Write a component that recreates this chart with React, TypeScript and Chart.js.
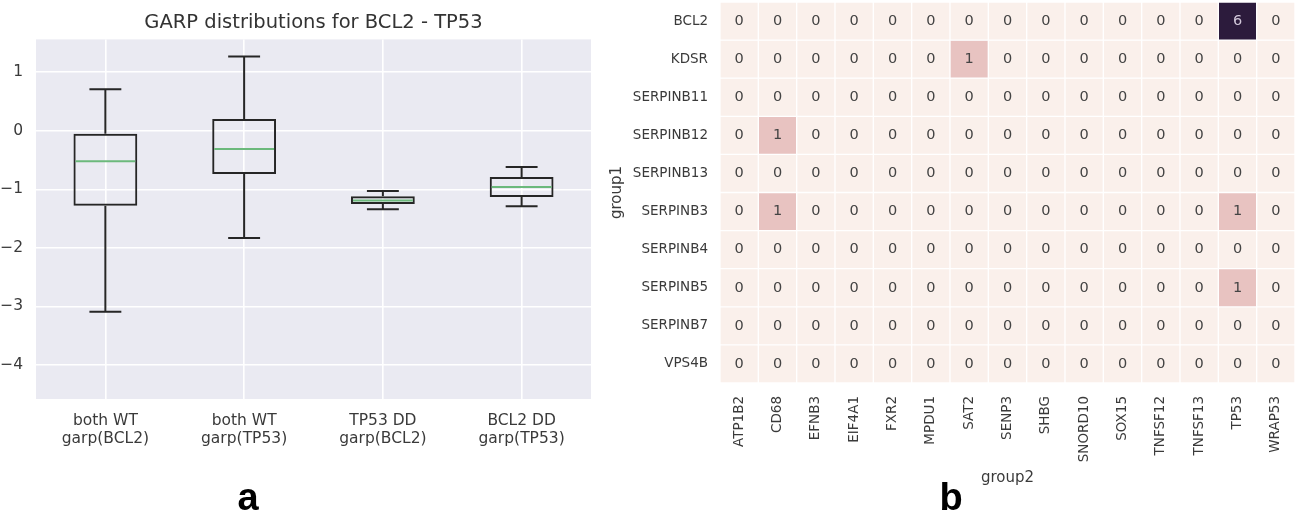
import React, { useEffect, useRef } from 'react';
import { Chart, registerables } from 'chart.js';

Chart.register(...registerables);

// ---------- Panel a: box plot data ----------
const boxCategories = [
  ['both WT', 'garp(BCL2)'],
  ['both WT', 'garp(TP53)'],
  ['TP53 DD', 'garp(BCL2)'],
  ['BCL2 DD', 'garp(TP53)'],
];
const whiskerLow = [-3.09, -1.83, -1.34, -1.29];
const quartile1 = [-1.28, -0.74, -1.25, -1.13];
const medians = [-0.52, -0.31, -1.19, -0.96];
const quartile3 = [-0.05, 0.2, -1.12, -0.79];
const whiskerHigh = [0.71, 1.27, -1.03, -0.62];
const yTicksA = [-4, -3, -2, -1, 0, 1];

// ---------- Panel b: heatmap data ----------
const group1 = ['BCL2', 'KDSR', 'SERPINB11', 'SERPINB12', 'SERPINB13', 'SERPINB3', 'SERPINB4', 'SERPINB5', 'SERPINB7', 'VPS4B'];
const group2 = ['ATP1B2', 'CD68', 'EFNB3', 'EIF4A1', 'FXR2', 'MPDU1', 'SAT2', 'SENP3', 'SHBG', 'SNORD10', 'SOX15', 'TNFSF12', 'TNFSF13', 'TP53', 'WRAP53'];
const countsBCL2 = [0, 0, 0, 0, 0, 0, 0, 0, 0, 0, 0, 0, 0, 6, 0];
const countsKDSR = [0, 0, 0, 0, 0, 0, 1, 0, 0, 0, 0, 0, 0, 0, 0];
const countsSERPINB11 = [0, 0, 0, 0, 0, 0, 0, 0, 0, 0, 0, 0, 0, 0, 0];
const countsSERPINB12 = [0, 1, 0, 0, 0, 0, 0, 0, 0, 0, 0, 0, 0, 0, 0];
const countsSERPINB13 = [0, 0, 0, 0, 0, 0, 0, 0, 0, 0, 0, 0, 0, 0, 0];
const countsSERPINB3 = [0, 1, 0, 0, 0, 0, 0, 0, 0, 0, 0, 0, 0, 1, 0];
const countsSERPINB4 = [0, 0, 0, 0, 0, 0, 0, 0, 0, 0, 0, 0, 0, 0, 0];
const countsSERPINB5 = [0, 0, 0, 0, 0, 0, 0, 0, 0, 0, 0, 0, 0, 1, 0];
const countsSERPINB7 = [0, 0, 0, 0, 0, 0, 0, 0, 0, 0, 0, 0, 0, 0, 0];
const countsVPS4B = [0, 0, 0, 0, 0, 0, 0, 0, 0, 0, 0, 0, 0, 0, 0];
const counts = [
  countsBCL2, countsKDSR, countsSERPINB11, countsSERPINB12, countsSERPINB13,
  countsSERPINB3, countsSERPINB4, countsSERPINB5, countsSERPINB7, countsVPS4B,
];
const colorStops: [number, number[]][] = [
  [0, [250, 240, 235]],
  [1, [232, 195, 193]],
  [6, [44, 27, 60]],
];

const FONT = 'DejaVu Sans';
const TEXT = '#3a3a3a';

function colorFor(v: number): string {
  for (let i = 0; i < colorStops.length - 1; i++) {
    const [a, ca] = colorStops[i];
    const [b, cb] = colorStops[i + 1];
    if (v >= a && v <= b) {
      const t = (v - a) / (b - a);
      const c = ca.map((x, k) => Math.round(x + (cb[k] - x) * t));
      return `rgb(${c[0]},${c[1]},${c[2]})`;
    }
  }
  const last = colorStops[colorStops.length - 1][1];
  return `rgb(${last[0]},${last[1]},${last[2]})`;
}

const minusFmt = (v: number) => (v < 0 ? '\u2212' + Math.abs(v) : String(v));

const panelLabelPlugin = {
  id: 'panelLabel',
  afterDraw(chart: any, _args: any, opts: any) {
    const ctx = chart.ctx;
    ctx.save();
    ctx.font = 'bold 38px "Liberation Sans", Arial, sans-serif';
    ctx.fillStyle = '#000';
    ctx.textAlign = 'center';
    ctx.textBaseline = 'alphabetic';
    ctx.fillText(opts.text, opts.x, opts.y);
    ctx.restore();
  },
};

const bgPlugin = {
  id: 'plotBg',
  beforeDraw(chart: any, _args: any, opts: any) {
    if (!opts || !opts.color) return;
    const { ctx, chartArea } = chart;
    ctx.save();
    ctx.fillStyle = opts.color;
    ctx.fillRect(chartArea.left, chartArea.top, chartArea.right - chartArea.left, chartArea.bottom - chartArea.top);
    ctx.restore();
  },
};

const boxPartsPlugin = {
  id: 'boxParts',
  afterDatasetsDraw(chart: any) {
    const { ctx } = chart;
    const y = chart.scales.y;
    const meta = chart.getDatasetMeta(0);
    ctx.save();
    ctx.lineWidth = 2;
    ctx.lineCap = 'butt';
    meta.data.forEach((bar: any, i: number) => {
      const cx = bar.x;
      const half = bar.width / 2;
      const capHalf = half / 2;
      const pLow = y.getPixelForValue(whiskerLow[i]);
      const pQ1 = y.getPixelForValue(quartile1[i]);
      const pQ3 = y.getPixelForValue(quartile3[i]);
      const pHigh = y.getPixelForValue(whiskerHigh[i]);
      const pMed = y.getPixelForValue(medians[i]);
      ctx.strokeStyle = '#262626';
      ctx.beginPath();
      ctx.moveTo(cx, pQ1);
      ctx.lineTo(cx, pLow);
      ctx.moveTo(cx, pQ3);
      ctx.lineTo(cx, pHigh);
      ctx.moveTo(cx - capHalf, pLow);
      ctx.lineTo(cx + capHalf, pLow);
      ctx.moveTo(cx - capHalf, pHigh);
      ctx.lineTo(cx + capHalf, pHigh);
      ctx.stroke();
      ctx.strokeStyle = '#6cb97c';
      ctx.beginPath();
      ctx.moveTo(cx - half + 2, pMed);
      ctx.lineTo(cx + half - 2, pMed);
      ctx.stroke();
    });
    ctx.restore();
  },
};

const cellTextPlugin = {
  id: 'cellText',
  afterDatasetsDraw(chart: any) {
    const { ctx } = chart;
    ctx.save();
    ctx.font = `14.5px "${FONT}"`;
    ctx.textAlign = 'center';
    ctx.textBaseline = 'middle';
    chart.data.datasets.forEach((_ds: any, r: number) => {
      const meta = chart.getDatasetMeta(r);
      meta.data.forEach((el: any, c: number) => {
        const v = counts[r][c];
        ctx.fillStyle = v > 3 ? '#d2c8da' : '#444444';
        ctx.fillText(String(v), el.x, (el.y + el.base) / 2);
      });
    });
    ctx.restore();
  },
};

function BoxPanel() {
  const ref = useRef<HTMLCanvasElement>(null);
  useEffect(() => {
    const chart = new Chart(ref.current as HTMLCanvasElement, {
      type: 'bar',
      data: {
        labels: boxCategories as any,
        datasets: [
          {
            data: quartile1.map((v, i) => [v, quartile3[i]]) as any,
            backgroundColor: 'rgba(0,0,0,0)',
            borderColor: '#262626',
            borderWidth: 2,
            borderSkipped: false,
            barPercentage: 0.46,
            categoryPercentage: 1,
          } as any,
        ],
      },
      options: {
        animation: false,
        responsive: false,
        maintainAspectRatio: false,
        layout: { padding: { left: 0, right: 36, top: 0, bottom: 0 } },
        plugins: {
          legend: { display: false },
          tooltip: { enabled: false },
          title: {
            display: true,
            text: 'GARP distributions for BCL2 - TP53',
            fullSize: false,
            color: '#333333',
            font: { family: FONT, size: 19.5, weight: 'normal' as any },
            padding: { top: 11, bottom: 5 },
          },
          plotBg: { color: '#eaeaf2' },
          panelLabel: { text: 'a', x: 248, y: 510 },
        } as any,
        scales: {
          x: {
            type: 'category',
            grid: { color: '#ffffff', lineWidth: 1.6, drawTicks: false, offset: false },
            border: { display: false },
            ticks: {
              color: TEXT,
              font: { family: FONT, size: 15.5, lineHeight: 1.16 },
              padding: 13,
              maxRotation: 0,
              autoSkip: false,
            },
            afterFit: (s: any) => {
              s.height = 113;
              s.paddingLeft = 0;
              s.paddingRight = 0;
            },
          },
          y: {
            type: 'linear',
            min: -4.58,
            max: 1.56,
            afterBuildTicks: (s: any) => {
              s.ticks = yTicksA.map((v) => ({ value: v }));
            },
            grid: { color: '#ffffff', lineWidth: 1.6, drawTicks: false },
            border: { display: false },
            ticks: {
              color: TEXT,
              font: { family: FONT, size: 15.5 },
              padding: 13,
              callback: (v: any) => minusFmt(Number(v)),
            },
            afterFit: (s: any) => {
              s.width = 36;
              s.paddingTop = 0;
              s.paddingBottom = 0;
            },
          },
        },
      },
      plugins: [bgPlugin, boxPartsPlugin, panelLabelPlugin],
    });
    return () => chart.destroy();
  }, []);
  return (
    <canvas
      ref={ref}
      width={627}
      height={512}
      style={{ position: 'absolute', left: 0, top: 0, width: 627, height: 512 }}
    />
  );
}

function HeatPanel() {
  const ref = useRef<HTMLCanvasElement>(null);
  useEffect(() => {
    const chart = new Chart(ref.current as HTMLCanvasElement, {
      type: 'bar',
      data: {
        labels: group2,
        datasets: group1.map((g, r) => ({
          label: g,
          data: group2.map(() => [r, r + 1]) as any,
          backgroundColor: counts[r].map(colorFor),
          borderColor: '#ffffff',
          borderWidth: 1,
          borderSkipped: false,
          grouped: false,
          barPercentage: 1,
          categoryPercentage: 1,
        })) as any,
      },
      options: {
        animation: false,
        responsive: false,
        maintainAspectRatio: false,
        layout: { padding: { left: 0, right: 2, top: 2, bottom: 0 } },
        plugins: {
          legend: { display: false },
          tooltip: { enabled: false },
          panelLabel: { text: 'b', x: 351, y: 510 },
        } as any,
        scales: {
          x: {
            type: 'category',
            grid: { display: false, drawTicks: false },
            border: { display: false },
            ticks: {
              color: TEXT,
              font: { family: FONT, size: 13.5 },
              padding: 13,
              minRotation: 90,
              maxRotation: 90,
              autoSkip: false,
            },
            title: {
              display: true,
              text: 'group2',
              color: TEXT,
              font: { family: FONT, size: 15 },
              padding: { top: 0, bottom: 25 },
            },
            afterFit: (s: any) => {
              s.height = 129;
              s.paddingLeft = 0;
              s.paddingRight = 0;
            },
          },
          y: {
            type: 'linear',
            min: 0,
            max: 10,
            reverse: true,
            afterBuildTicks: (s: any) => {
              s.ticks = group1.map((_g, i) => ({ value: i + 0.5 }));
            },
            grid: { display: false, drawTicks: false },
            border: { display: false },
            ticks: {
              color: TEXT,
              font: { family: FONT, size: 13.5 },
              padding: 12,
              autoSkip: false,
              callback: (_v: any, i: number) => group1[i],
            },
            title: {
              display: true,
              text: 'group1',
              color: TEXT,
              font: { family: FONT, size: 15 },
              padding: { top: 8, bottom: 0 },
            },
            afterFit: (s: any) => {
              s.width = 120;
              s.paddingTop = 0;
              s.paddingBottom = 0;
            },
          },
        },
      },
      plugins: [cellTextPlugin, panelLabelPlugin],
    });
    return () => chart.destroy();
  }, []);
  return (
    <canvas
      ref={ref}
      width={697}
      height={512}
      style={{ position: 'absolute', left: 600, top: 0, width: 697, height: 512 }}
    />
  );
}

export default function App() {
  return (
    <div style={{ position: 'absolute', left: 0, top: 0, width: 1297, height: 512, background: '#ffffff', overflow: 'hidden' }}>
      <BoxPanel />
      <HeatPanel />
    </div>
  );
}
